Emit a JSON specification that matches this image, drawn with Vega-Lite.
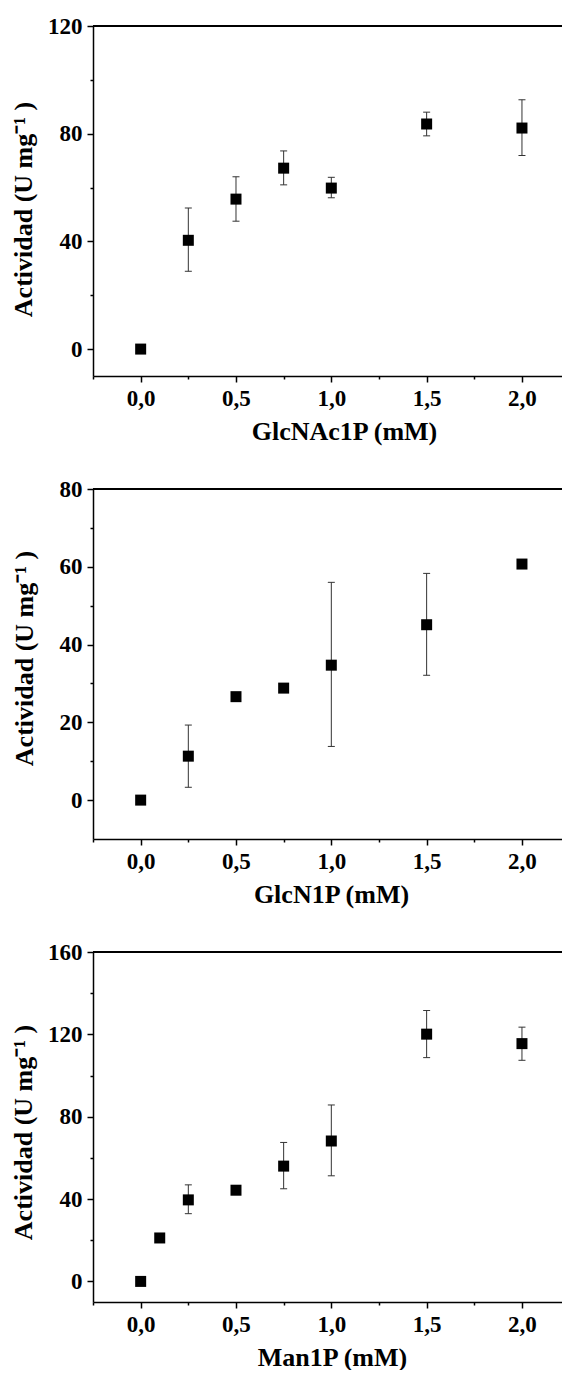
{
  "$schema": "https://vega.github.io/schema/vega-lite/v6.json",
  "background": "white",
  "padding": {"left": 10, "top": 15, "right": 0, "bottom": 0},
  "bounds": "flush",
  "spacing": 113,
  "datasets": {
    "glcnac": [
      {"c": 0, "act": 0, "lo": null, "hi": null},
      {"c": 0.25, "act": 40.4, "lo": 28.9, "hi": 52.4},
      {"c": 0.5, "act": 55.7, "lo": 47.5, "hi": 64.0},
      {"c": 0.75, "act": 67.2, "lo": 61.0, "hi": 73.6},
      {"c": 1.0, "act": 59.8, "lo": 56.2, "hi": 63.8},
      {"c": 1.5, "act": 83.6, "lo": 79.2, "hi": 88.0},
      {"c": 2.0, "act": 82.1, "lo": 71.9, "hi": 92.6}
    ],
    "glcn": [
      {"c": 0, "act": 0, "lo": null, "hi": null},
      {"c": 0.25, "act": 11.3, "lo": 3.3, "hi": 19.3},
      {"c": 0.5, "act": 26.6, "lo": null, "hi": null},
      {"c": 0.75, "act": 28.8, "lo": null, "hi": null},
      {"c": 1.0, "act": 34.7, "lo": 13.8, "hi": 56.0},
      {"c": 1.5, "act": 45.1, "lo": 32.1, "hi": 58.3},
      {"c": 2.0, "act": 60.7, "lo": null, "hi": null}
    ],
    "man": [
      {"c": 0, "act": 0, "lo": null, "hi": null},
      {"c": 0.1, "act": 21.1, "lo": null, "hi": null},
      {"c": 0.25, "act": 39.6, "lo": 32.9, "hi": 46.9},
      {"c": 0.5, "act": 44.3, "lo": null, "hi": null},
      {"c": 0.75, "act": 56.0, "lo": 45.0, "hi": 67.5},
      {"c": 1.0, "act": 68.2, "lo": 51.3, "hi": 85.7},
      {"c": 1.5, "act": 120.1, "lo": 108.7, "hi": 131.6},
      {"c": 2.0, "act": 115.5, "lo": 107.4, "hi": 123.5}
    ]
  },
  "vconcat": [
    {
      "width": 469,
      "height": 350,
      "data": {"name": "glcnac"},
      "encoding": {
        "x": {"field": "c", "type": "quantitative",
          "scale": {"domain": [-0.25, 2.21], "nice": false, "zero": false},
          "axis": {"title": "GlcNAc1P (mM)", "titleX": 251,
            "values": [-0.25, 0, 0.25, 0.5, 0.75, 1, 1.25, 1.5, 1.75, 2],
            "labelExpr": "datum.value % 0.5 === 0 ? replace(format(datum.value, '.1f'), '.', ',') : ''",
            "tickSize": {"condition": {"test": "datum.value % 0.5 !== 0", "value": 3}, "value": 6}}}
      },
      "layer": [
        {"mark": {"type": "rule", "color": "black", "strokeWidth": 1.5}, "encoding": {"x": null, "y": {"datum": 120, "type": "quantitative"}}},
        {"transform": [{"filter": "isValid(datum.lo)"}], "mark": {"type": "rule", "color": "#333", "strokeWidth": 1},
          "encoding": {"y": {"field": "lo", "type": "quantitative"}, "y2": {"field": "hi"}}},
        {"transform": [{"filter": "isValid(datum.lo)"}], "mark": {"type": "tick", "orient": "horizontal", "size": 7, "thickness": 1, "color": "#333", "opacity": 1},
          "encoding": {"y": {"field": "lo", "type": "quantitative"}}},
        {"transform": [{"filter": "isValid(datum.lo)"}], "mark": {"type": "tick", "orient": "horizontal", "size": 7, "thickness": 1, "color": "#333", "opacity": 1},
          "encoding": {"y": {"field": "hi", "type": "quantitative"}}},
        {"mark": {"type": "square", "size": 121, "color": "black", "filled": true, "opacity": 1},
          "encoding": {"y": {"field": "act", "type": "quantitative",
            "scale": {"domain": [-10, 120], "nice": false, "zero": false},
            "axis": {"title": "Actividad (U mg⁻¹ )", "titleY": 183, "titlePadding": 11,
              "values": [0, 20, 40, 60, 80, 100, 120],
              "labelExpr": "datum.value % 40 === 0 ? datum.label : ''",
              "tickSize": {"condition": {"test": "datum.value % 40 !== 0", "value": 3}, "value": 6}}}}}
      ]
    },
    {
      "width": 469,
      "height": 350,
      "data": {"name": "glcn"},
      "encoding": {
        "x": {"field": "c", "type": "quantitative",
          "scale": {"domain": [-0.25, 2.21], "nice": false, "zero": false},
          "axis": {"title": "GlcN1P (mM)", "titleX": 238,
            "values": [-0.25, 0, 0.25, 0.5, 0.75, 1, 1.25, 1.5, 1.75, 2],
            "labelExpr": "datum.value % 0.5 === 0 ? replace(format(datum.value, '.1f'), '.', ',') : ''",
            "tickSize": {"condition": {"test": "datum.value % 0.5 !== 0", "value": 3}, "value": 6}}}
      },
      "layer": [
        {"mark": {"type": "rule", "color": "black", "strokeWidth": 1.5}, "encoding": {"x": null, "y": {"datum": 80, "type": "quantitative"}}},
        {"transform": [{"filter": "isValid(datum.lo)"}], "mark": {"type": "rule", "color": "#333", "strokeWidth": 1},
          "encoding": {"y": {"field": "lo", "type": "quantitative"}, "y2": {"field": "hi"}}},
        {"transform": [{"filter": "isValid(datum.lo)"}], "mark": {"type": "tick", "orient": "horizontal", "size": 7, "thickness": 1, "color": "#333", "opacity": 1},
          "encoding": {"y": {"field": "lo", "type": "quantitative"}}},
        {"transform": [{"filter": "isValid(datum.lo)"}], "mark": {"type": "tick", "orient": "horizontal", "size": 7, "thickness": 1, "color": "#333", "opacity": 1},
          "encoding": {"y": {"field": "hi", "type": "quantitative"}}},
        {"mark": {"type": "square", "size": 121, "color": "black", "filled": true, "opacity": 1},
          "encoding": {"y": {"field": "act", "type": "quantitative",
            "scale": {"domain": [-10, 80], "nice": false, "zero": false},
            "axis": {"title": "Actividad (U mg⁻¹ )", "titleY": 169, "titlePadding": 22,
              "values": [0, 10, 20, 30, 40, 50, 60, 70, 80],
              "labelExpr": "datum.value % 20 === 0 ? datum.label : ''",
              "tickSize": {"condition": {"test": "datum.value % 20 !== 0", "value": 3}, "value": 6}}}}}
      ]
    },
    {
      "width": 469,
      "height": 350,
      "data": {"name": "man"},
      "encoding": {
        "x": {"field": "c", "type": "quantitative",
          "scale": {"domain": [-0.25, 2.21], "nice": false, "zero": false},
          "axis": {"title": "Man1P (mM)", "titleX": 239,
            "values": [-0.25, 0, 0.25, 0.5, 0.75, 1, 1.25, 1.5, 1.75, 2],
            "labelExpr": "datum.value % 0.5 === 0 ? replace(format(datum.value, '.1f'), '.', ',') : ''",
            "tickSize": {"condition": {"test": "datum.value % 0.5 !== 0", "value": 3}, "value": 6}}}
      },
      "layer": [
        {"mark": {"type": "rule", "color": "black", "strokeWidth": 1.5}, "encoding": {"x": null, "y": {"datum": 160, "type": "quantitative"}}},
        {"transform": [{"filter": "isValid(datum.lo)"}], "mark": {"type": "rule", "color": "#333", "strokeWidth": 1},
          "encoding": {"y": {"field": "lo", "type": "quantitative"}, "y2": {"field": "hi"}}},
        {"transform": [{"filter": "isValid(datum.lo)"}], "mark": {"type": "tick", "orient": "horizontal", "size": 7, "thickness": 1, "color": "#333", "opacity": 1},
          "encoding": {"y": {"field": "lo", "type": "quantitative"}}},
        {"transform": [{"filter": "isValid(datum.lo)"}], "mark": {"type": "tick", "orient": "horizontal", "size": 7, "thickness": 1, "color": "#333", "opacity": 1},
          "encoding": {"y": {"field": "hi", "type": "quantitative"}}},
        {"mark": {"type": "square", "size": 121, "color": "black", "filled": true, "opacity": 1},
          "encoding": {"y": {"field": "act", "type": "quantitative",
            "scale": {"domain": [-10, 160], "nice": false, "zero": false},
            "axis": {"title": "Actividad (U mg⁻¹ )", "titleY": 180, "titlePadding": 11,
              "values": [0, 20, 40, 60, 80, 100, 120, 140, 160],
              "labelExpr": "datum.value % 40 === 0 ? datum.label : ''",
              "tickSize": {"condition": {"test": "datum.value % 40 !== 0", "value": 3}, "value": 6}}}}}
      ]
    }
  ],
  "config": {
    "view": {"stroke": null},
    "axis": {
      "grid": false,
      "domainColor": "black", "domainWidth": 1.5,
      "tickColor": "black", "tickWidth": 1.5,
      "labelFont": "Liberation Serif", "labelFontSize": 23, "labelFontWeight": "bold", "labelColor": "black",
      "labelPadding": 5, "labelOverlap": false, "labelFlush": false,
      "titleFont": "Liberation Serif", "titleFontSize": 26, "titleFontWeight": "bold", "titleColor": "black",
      "titlePadding": 8
    }
  }
}
